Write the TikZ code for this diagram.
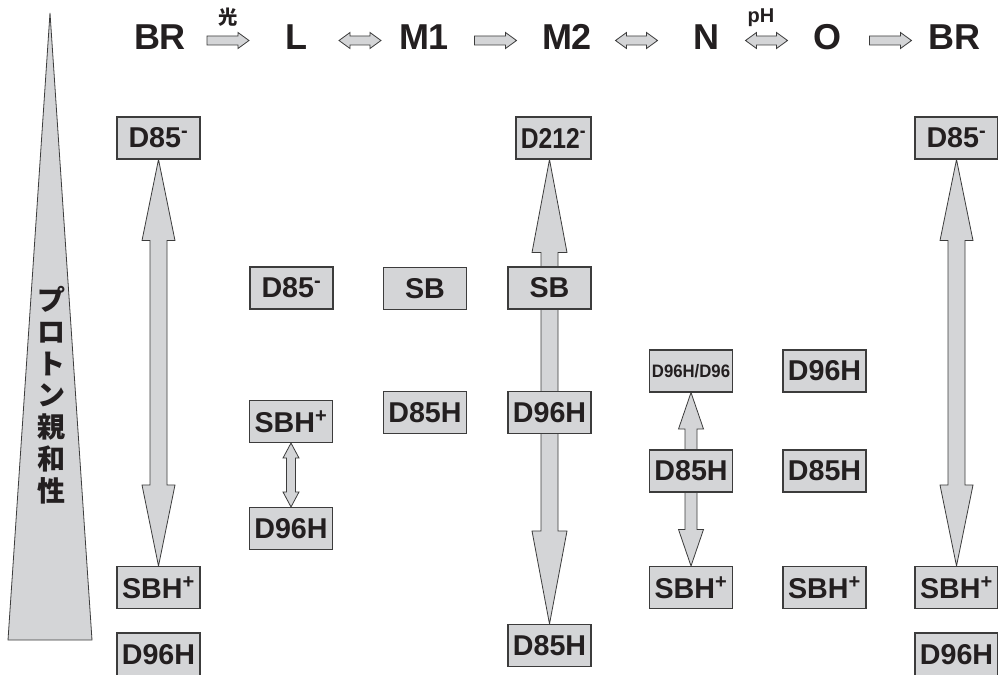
\documentclass[tikz,border=0pt]{standalone}
\usepackage{fontspec}
\usepackage{graphicx}
\setmainfont{Liberation Sans}
\newfontfamily\cjk{Noto Sans CJK JP}
\usetikzlibrary{calc,backgrounds}
\definecolor{fillg}{RGB}{212,213,215}
\definecolor{edgeg}{RGB}{60,60,60}
\definecolor{ink}{RGB}{35,31,32}
\tikzset{
  box/.style={draw=edgeg, line width=0.8pt, fill=fillg, inner sep=0pt,
    minimum width=62.25pt, minimum height=31.5pt,
    font=\fontsize{21.5}{21.5}\selectfont\bfseries, text=ink},
  blk/.style={draw=edgeg, line width=0.6pt, fill=fillg, line join=miter},
  statelbl/.style={font=\fontsize{27}{27}\selectfont\bfseries, text=ink, anchor=base, inner sep=0pt},
}
% vertical double block arrow: #1 top tip, #2 bottom tip, #3 shaft half width, #4 head half width, #5 head length
\newcommand\vdarr[5]{%
  \draw[blk] (#1) -- ($(#1)+(#4,#5)$) -- ($(#1)+(#3,#5)$) -- ($(#2)+(#3,-#5)$)
    -- ($(#2)+(#4,-#5)$) -- (#2) -- ($(#2)+(-#4,-#5)$) -- ($(#2)+(-#3,-#5)$)
    -- ($(#1)+(-#3,#5)$) -- ($(#1)+(-#4,#5)$) -- cycle;}
% horizontal single block arrow between two state labels
\newcommand\harr[3]{%
  \coordinate (#3) at ($($(#1.base)!0.5!(#2.base)$)+(0,-9.5)$);
  \draw[blk] ($(#3)+(-21,-4.5)$) -- ($(#3)+(10,-4.5)$) -- ($(#3)+(10,-8)$) -- ($(#3)+(21,0)$)
    -- ($(#3)+(10,8)$) -- ($(#3)+(10,4.5)$) -- ($(#3)+(-21,4.5)$) -- cycle;}
% horizontal double block arrow between two state labels
\newcommand\hdarr[3]{%
  \coordinate (#3) at ($($(#1.base)!0.5!(#2.base)$)+(0,-9.5)$);
  \draw[blk] ($(#3)+(-21,0)$) -- ($(#3)+(-10,-8)$) -- ($(#3)+(-10,-4.5)$) -- ($(#3)+(10,-4.5)$)
    -- ($(#3)+(10,-8)$) -- ($(#3)+(21,0)$) -- ($(#3)+(10,8)$) -- ($(#3)+(10,4.5)$)
    -- ($(#3)+(-10,4.5)$) -- ($(#3)+(-10,8)$) -- cycle;}
\begin{document}
\begin{tikzpicture}[x=0.75pt,y=-0.75pt]
\useasboundingbox (0,0) rectangle (998,674);

% top row states
\node[statelbl] (BR1) at (160,50) {BR};
\node[statelbl] (L)   at (296,50) {L};
\node[statelbl] (M1)  at (424,50) {M1};
\node[statelbl] (M2)  at (567,50) {M2};
\node[statelbl] (N)   at (706,50) {N};
\node[statelbl] (O)   at (827,50) {O};
\node[statelbl] (BR2) at (954,50) {BR};
\node[font=\cjk\bfseries\fontsize{14.5}{14.5}\selectfont, text=ink, inner sep=0pt] (hikari) at (228,17.5) {光};
\node[font=\fontsize{15}{15}\selectfont\bfseries, text=ink, inner sep=0pt, anchor=base] (pH) at (761,22.5) {pH};

% proton affinity wedge
\node[font=\cjk\bfseries\fontsize{21}{23.8}\selectfont, text=ink, align=center, inner sep=0pt] (pa) at (51,395)
  {プ\\ロ\\ト\\ン\\親\\和\\性};

% boxes: BR column
\node[box] (D85a) at (158.5,138) {D85\textsuperscript{-}};
\node[box] (SBHa) at (158.5,587.5) {SBH\textsuperscript{+}};
\node[box, minimum height=32.25pt] (D96Ha) at (158.5,654.5) {D96H};
% L column
\node[box] (D85b) at (291.5,288) {D85\textsuperscript{-}};
\node[box] (SBHb) at (291,421.5) {SBH\textsuperscript{+}};
\node[box] (D96Hb) at (291,528.5) {D96H};
% M1 column
\node[box] (SBc) at (425,288.5) {SB};
\node[box] (D85Hc) at (425,412.5) {D85H};
% M2 column
\node[box, minimum width=56.25pt] (D212) at (553.5,138) {\scalebox{0.86}[1]{D212\textsuperscript{-}}};
\node[box] (SBd) at (549.5,288) {SB};
\node[box] (D96Hd) at (549.5,412.5) {D96H};
\node[box] (D85Hd) at (549.5,645.5) {D85H};
% N column
\node[box, font=\fontsize{13.5}{13.5}\selectfont\bfseries] (D96HN) at (691,371) {\scalebox{0.93}[1]{D96H/D96}};
\node[box] (D85He) at (691,471) {D85H};
\node[box] (SBHe) at (691,587.5) {SBH\textsuperscript{+}};
% O column
\node[box] (D96Hf) at (824.5,371) {D96H};
\node[box] (D85Hf) at (824.5,471) {D85H};
\node[box] (SBHf) at (824.5,587.5) {SBH\textsuperscript{+}};
% BR (right) column
\node[box] (D85g) at (956.5,138) {D85\textsuperscript{-}};
\node[box] (SBHg) at (956.5,587.5) {SBH\textsuperscript{+}};
\node[box, minimum height=32.25pt] (D96Hg) at (956.5,654.5) {D96H};

\begin{pgfonlayer}{background}
  \fill[white] (0,0) rectangle (998,674);
  \draw[blk] (50,13) -- (92,640) -- (8,640) -- cycle;
  \harr{BR1}{L}{a1}
  \hdarr{L}{M1}{a2}
  \harr{M1}{M2}{a3}
  \hdarr{M2}{N}{a4}
  \hdarr{N}{O}{a5}
  \harr{O}{BR2}{a6}
  \vdarr{D85a.south}{SBHa.north}{8.5}{16.5}{81}
  \vdarr{SBHb.south}{D96Hb.north}{4.5}{8}{15}
  \coordinate (m2top) at (D212.south -| SBd.center);
  \vdarr{m2top}{D85Hd.north}{8.5}{17.5}{93}
  \vdarr{D96HN.south}{SBHe.north}{6}{12.5}{36.5}
  \vdarr{D85g.south}{SBHg.north}{8.5}{16.5}{81}
\end{pgfonlayer}
\end{tikzpicture}
\end{document}
